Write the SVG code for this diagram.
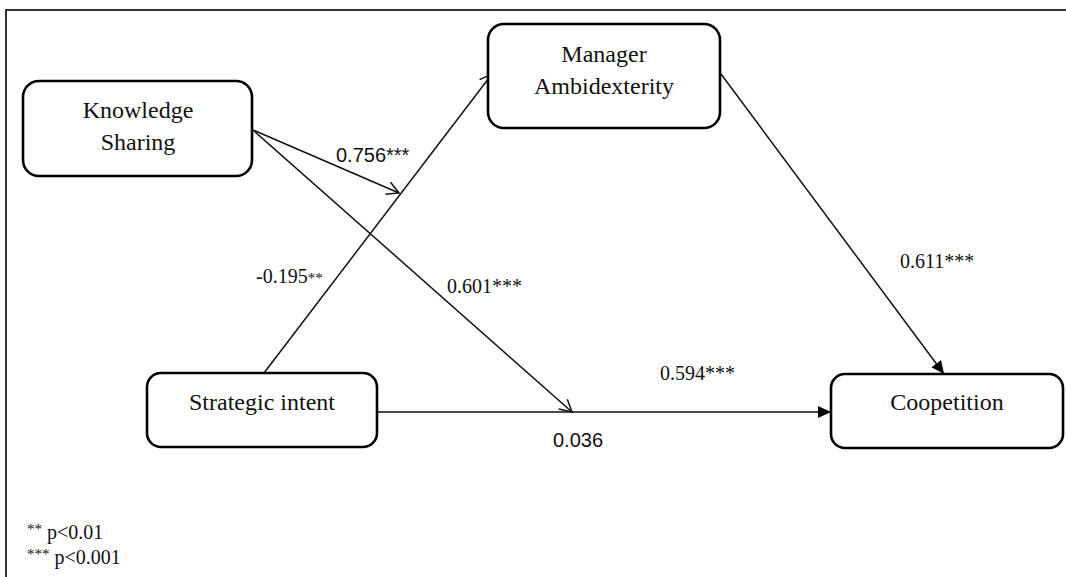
<svg xmlns="http://www.w3.org/2000/svg" width="1066" height="577" viewBox="0 0 1066 577">
<style>
.node rect{fill:#fff;stroke:#000;stroke-width:2.6}
.nt{font-family:"Liberation Serif","Times New Roman",serif;font-size:24px;fill:#111;text-anchor:middle}
.lbl{font-family:"Liberation Serif","Times New Roman",serif;font-size:20px;fill:#111}
.lbls{font-family:"Liberation Sans",Arial,sans-serif;font-size:20px;fill:#111}
.edge{stroke:#111;stroke-width:1.5;fill:none}
.small{font-size:15px}
</style>
<defs>
<marker id="open" markerWidth="16" markerHeight="16" refX="14" refY="8" orient="auto" markerUnits="userSpaceOnUse">
<path d="M2,1.5 L14,8 L2,14.5" fill="none" stroke="#111" stroke-width="1.5"/>
</marker>
<marker id="filled" markerWidth="14" markerHeight="14" refX="13" refY="7" orient="auto" markerUnits="userSpaceOnUse">
<path d="M0,1 L13,7 L0,13 Z" fill="#000"/>
</marker>
</defs>
<rect x="0" y="0" width="1066" height="577" fill="#fff"/>
<path d="M6,577 L6,10 L1066,10" fill="none" stroke="#333" stroke-width="2"/>
<g id="connectors">
<line class="edge" x1="253" y1="130" x2="399" y2="193" marker-end="url(#open)"/>
<line class="edge" x1="253" y1="130" x2="572" y2="412" marker-end="url(#open)"/>
<line class="edge" x1="264" y1="373" x2="492" y2="74" marker-end="url(#open)"/>
<line class="edge" x1="721" y1="74" x2="944" y2="374" marker-end="url(#filled)"/>
<line class="edge" x1="377" y1="412" x2="831" y2="412" marker-end="url(#filled)"/>
</g>
<g id="node-ks" class="node">
<rect x="23" y="81" width="229" height="95" rx="16"/>
<text class="nt" x="138" y="118">Knowledge</text>
<text class="nt" x="138" y="150">Sharing</text>
</g>
<g id="node-ma" class="node">
<rect x="488" y="24" width="232" height="104" rx="16"/>
<text class="nt" x="604" y="62">Manager</text>
<text class="nt" x="604" y="94">Ambidexterity</text>
</g>
<g id="node-si" class="node">
<rect x="147" y="373" width="230" height="74" rx="14"/>
<text class="nt" x="262" y="410">Strategic intent</text>
</g>
<g id="node-co" class="node">
<rect x="831" y="374" width="232" height="74" rx="14"/>
<text class="nt" x="947" y="410">Coopetition</text>
</g>
<g id="labels">
<text class="lbls" x="336" y="162">0.756***</text>
<text class="lbl" x="256" y="283">-0.195<tspan class="small">**</tspan></text>
<text class="lbl" x="447" y="293">0.601***</text>
<text class="lbl" x="900" y="268">0.611***</text>
<text class="lbl" x="660" y="380">0.594***</text>
<text class="lbls" x="553" y="447" font-size="17">0.036</text>
<text class="lbl" x="27" y="539" font-size="22"><tspan class="small" dy="-5">**</tspan><tspan dy="5"> p&lt;0.01</tspan></text>
<text class="lbl" x="27" y="564" font-size="22"><tspan class="small" dy="-5">***</tspan><tspan dy="5"> p&lt;0.001</tspan></text>
</g>
</svg>
